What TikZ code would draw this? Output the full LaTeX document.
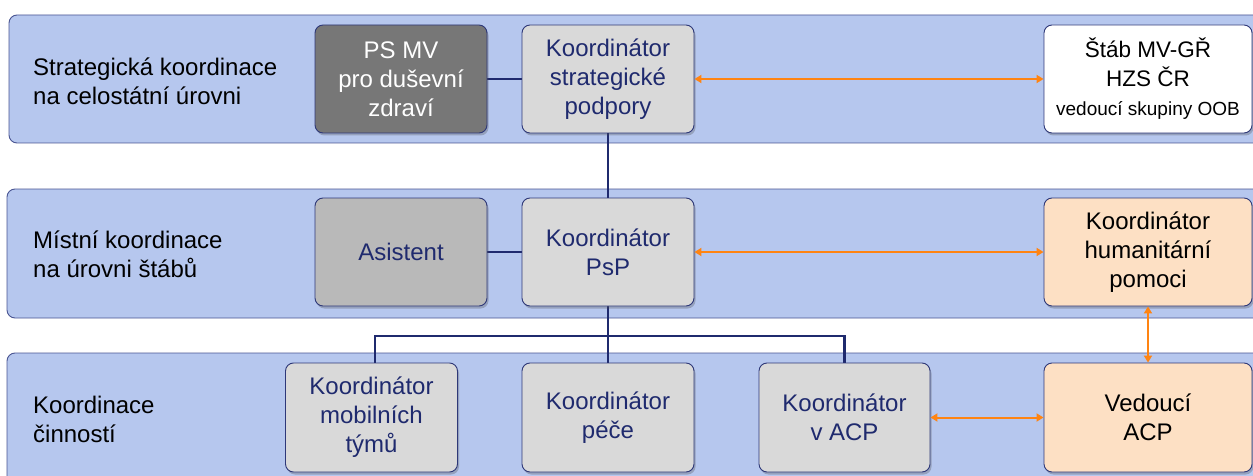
\documentclass[tikz,border=0pt]{standalone}
\usepackage{fontspec}
\setmainfont{Liberation Sans}
\usetikzlibrary{arrows.meta,shadows}
\definecolor{bandfill}{HTML}{B6C7EE}
\definecolor{bandline}{HTML}{4A5592}
\definecolor{navy}{HTML}{1F2A6E}
\definecolor{boxline}{HTML}{2E3878}
\definecolor{kgray}{HTML}{D9D9D9}
\definecolor{agray}{HTML}{B9B9B9}
\definecolor{dgray}{HTML}{777777}
\definecolor{peach}{HTML}{FDE0C4}
\definecolor{orangeline}{HTML}{FF8412}
\tikzset{
  band/.style={draw=bandline, line width=0.9pt, fill=bandfill, rounded corners=8pt},
  lbl/.style={anchor=west, align=left, font=\fontsize{24}{29}\selectfont, text=black, inner sep=0pt},
  basebox/.style={draw=boxline, line width=0.9pt, rounded corners=8pt, align=center,
    minimum width=172pt, minimum height=108pt, inner sep=0pt,
    font=\fontsize{24}{29}\selectfont,
    drop shadow={shadow xshift=1.5pt, shadow yshift=-2.5pt, opacity=0.3, fill=black!70}},
  kbox/.style={basebox, fill=kgray, text=navy},
  abox/.style={basebox, fill=agray, text=navy},
  dbox/.style={basebox, fill=dgray, text=white},
  wbox/.style={basebox, fill=white, text=black, minimum width=208pt},
  obox/.style={basebox, fill=peach, text=black, minimum width=208pt},
  conn/.style={draw=navy, line width=2.5pt},
  oarrow/.style={draw=orangeline, line width=2pt, {Triangle[width=8pt,length=7pt]}-{Triangle[width=8pt,length=7pt]}}
}
\begin{document}
\begin{tikzpicture}[x=1pt,y=-1pt]
\useasboundingbox (0,0) rectangle (1253,476);
\clip (0,0) rectangle (1253,476);
% bands
\draw[band] (9,15) rectangle (1275,143);
\draw[band] (7,189) rectangle (1275,318);
\draw[band] (7,353) rectangle (1275,500);
% labels
\node[lbl] (l1) at (33,81) {Strategická koordinace\\na celostátní úrovni};
\node[lbl] (l2) at (33,254) {Místní koordinace\\na úrovni štábů};
\node[lbl] (l3) at (33,419) {Koordinace\\činností};
% connectors (behind boxes)
\coordinate (busL) at (375,336);
\coordinate (busR) at (844.5,336);
\coordinate (busM) at (608,336);
\draw[conn] (401,79) -- (608,79);
\draw[conn] (608,79) -- (608,252);
\draw[conn] (401,252) -- (608,252);
\draw[conn] (608,252) -- (busM);
\draw[conn] (375,417) -- (busL) -- (busR) -- (844.5,417);
\draw[conn] (busM) -- (608,417);
% row 1
\node[dbox] (psmv) at (401,79) {PS MV\\pro duševní\\zdraví};
\node[kbox] (ks) at (608,79) {Koordinátor\\strategické\\podpory};
\node[wbox] (stab) at (1148,79) {\fontsize{22.5}{28}\selectfont Štáb MV-GŘ\\\fontsize{22.5}{28}\selectfont HZS ČR\\\fontsize{19}{26}\selectfont vedoucí skupiny OOB};
% row 2
\node[abox] (asist) at (401,252) {Asistent};
\node[kbox] (psp) at (608,252) {Koordinátor\\PsP};
\node[obox] (hum) at (1148,252) {Koordinátor\\humanitární\\pomoci};
% row 3
\node[kbox, minimum height=109pt] (mob) at (371.5,417.5) {Koordinátor\\mobilních\\týmů};
\node[kbox, minimum height=109pt] (pece) at (608,417.5) {Koordinátor\\péče};
\node[kbox, minimum height=109pt, minimum width=171pt] (vacp) at (844.5,417.5) {Koordinátor\\v ACP};
\node[obox, minimum height=109pt] (ved) at (1148,417.5) {Vedoucí\\ACP};
% orange arrows
\draw[oarrow] (ks.east) -- (stab.west);
\draw[oarrow] (psp.east) -- (hum.west);
\draw[oarrow] (vacp.east) -- (ved.west);
\draw[oarrow] (hum.south) -- (ved.north);
\end{tikzpicture}
\end{document}
